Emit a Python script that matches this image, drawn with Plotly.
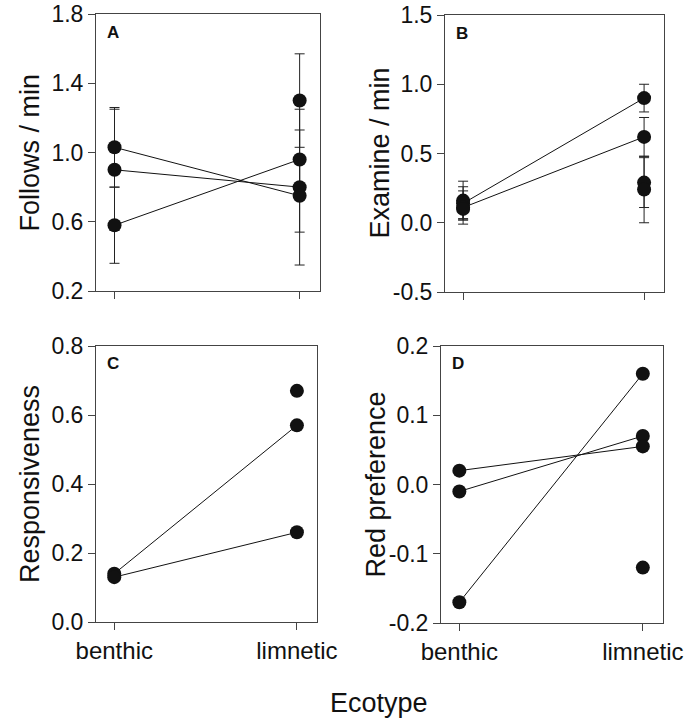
import plotly.graph_objects as go

W, H = 698, 719
FONT = "Liberation Sans, Arial, Helvetica, sans-serif"

categories = ["benthic", "limnetic"]

# Panel A: Follows / min
A_benthic = [1.03, 0.90, 0.58]
A_benthic_err = [0.23, 0.35, 0.22]
A_limnetic = [1.30, 0.96, 0.80, 0.75]
A_limnetic_err = [0.27, 0.17, 0.45, 0.21]
A_pairs = [(0, 3), (1, 2), (2, 1)]
A_ticks = [0.2, 0.6, 1.0, 1.4, 1.8]
A_ticktext = ["0.2", "0.6", "1.0", "1.4", "1.8"]

# Panel B: Examine / min
B_benthic = [0.16, 0.14, 0.11, 0.10]
B_benthic_err = [0.14, 0.12, 0.12, 0.07]
B_limnetic = [0.90, 0.62, 0.29, 0.24]
B_limnetic_err = [0.10, 0.14, 0.18, 0.24]
B_pairs = [(1, 0), (2, 1)]
B_ticks = [-0.5, 0.0, 0.5, 1.0, 1.5]
B_ticktext = ["-0.5", "0.0", "0.5", "1.0", "1.5"]

# Panel C: Responsiveness
C_benthic = [0.14, 0.13]
C_limnetic = [0.67, 0.57, 0.26]
C_pairs = [(0, 1), (1, 2)]
C_ticks = [0.0, 0.2, 0.4, 0.6, 0.8]
C_ticktext = ["0.0", "0.2", "0.4", "0.6", "0.8"]

# Panel D: Red preference
D_benthic = [0.02, -0.01, -0.17]
D_limnetic = [0.16, 0.07, 0.055, -0.12]
D_pairs = [(0, 2), (1, 1), (2, 0)]
D_ticks = [-0.2, -0.1, 0.0, 0.1, 0.2]
D_ticktext = ["-0.2", "-0.1", "0.0", "0.1", "0.2"]

panels = [
    dict(letter="A", title="Follows / min", b=A_benthic, be=A_benthic_err, l=A_limnetic,
         le=A_limnetic_err, pairs=A_pairs, ticks=A_ticks, tt=A_ticktext,
         box=(96, 320, 14, 291), labels=False),
    dict(letter="B", title="Examine / min", b=B_benthic, be=B_benthic_err, l=B_limnetic,
         le=B_limnetic_err, pairs=B_pairs, ticks=B_ticks, tt=B_ticktext,
         box=(445, 664, 15, 292), labels=False),
    dict(letter="C", title="Responsiveness", b=C_benthic, be=None, l=C_limnetic,
         le=None, pairs=C_pairs, ticks=C_ticks, tt=C_ticktext,
         box=(96, 317, 346, 622), labels=True),
    dict(letter="D", title="Red preference", b=D_benthic, be=None, l=D_limnetic,
         le=None, pairs=D_pairs, ticks=D_ticks, tt=D_ticktext,
         box=(441, 663, 346, 623), labels=True),
]

fig = go.Figure()
annotations = []
INK = "#111111"
AXC = "#444444"

for i, p in enumerate(panels):
    n = "" if i == 0 else str(i + 1)
    xa, ya = "x" + n, "y" + n
    x0, x1, y0, y1 = p["box"]
    # connecting lines
    for bi, li in p["pairs"]:
        fig.add_trace(go.Scatter(x=[0, 1], y=[p["b"][bi], p["l"][li]], mode="lines",
                                 line=dict(color=INK, width=1), xaxis=xa, yaxis=ya,
                                 showlegend=False, hoverinfo="skip"))
    for xv, vals, errs in [(0, p["b"], p["be"]), (1, p["l"], p["le"])]:
        kw = {}
        if errs is not None:
            kw["error_y"] = dict(type="data", array=errs, visible=True,
                                 color="#222222", thickness=1, width=5)
        fig.add_trace(go.Scatter(x=[xv] * len(vals), y=vals, mode="markers",
                                 marker=dict(color=INK, size=14, line=dict(width=0)),
                                 xaxis=xa, yaxis=ya, showlegend=False, **kw))
    axis_common = dict(showline=True, mirror=True, linecolor=AXC, linewidth=1,
                       ticks="outside", ticklen=7, tickcolor=AXC, tickwidth=1,
                       showgrid=False, zeroline=False, automargin=False)
    fig.layout["xaxis" + n] = dict(
        domain=[x0 / W, x1 / W], anchor=ya, range=[-0.1, 1.11],
        tickvals=[0, 1], ticktext=categories, showticklabels=p["labels"],
        tickfont=dict(family=FONT, size=24, color=INK), **axis_common)
    fig.layout["yaxis" + n] = dict(
        domain=[1 - y1 / H, 1 - y0 / H], anchor=xa,
        range=[p["ticks"][0], p["ticks"][-1]],
        tickvals=p["ticks"], ticktext=p["tt"],
        tickfont=dict(family=FONT, size=23, color=INK), **axis_common)
    annotations.append(dict(text="<b>%s</b>" % p["letter"], xref="paper", yref="paper",
                            x=(x0 + 9) / W, y=1 - (y0 + 18) / H, xanchor="left",
                            yanchor="middle", showarrow=False,
                            font=dict(family=FONT, size=17, color=INK)))
    annotations.append(dict(text=p["title"], xref="paper", yref="paper",
                            x=(x0 - 66) / W, y=1 - ((y0 + y1) / 2) / H,
                            xanchor="center", yanchor="middle", textangle=-90,
                            showarrow=False, font=dict(family=FONT, size=27, color=INK)))

annotations.append(dict(text="Ecotype", xref="paper", yref="paper", x=379 / W,
                        y=1 - 703 / H, xanchor="center", yanchor="middle",
                        showarrow=False, font=dict(family=FONT, size=27, color=INK)))

fig.update_layout(width=W, height=H, margin=dict(l=0, r=0, t=0, b=0),
                  template="none",
                  paper_bgcolor="white", plot_bgcolor="white",
                  annotations=annotations, showlegend=False)

fig.write_html("out.html")
